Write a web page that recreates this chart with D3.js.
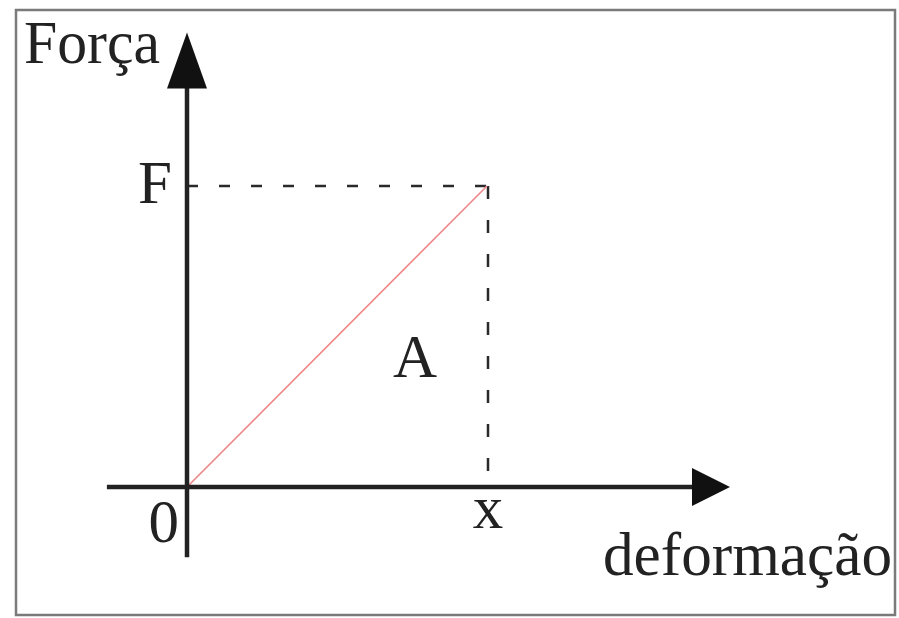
<!DOCTYPE html>
<html>
<head>
<meta charset="utf-8">
<script src="https://cdn.jsdelivr.net/npm/d3@7"></script>
<style>
  body { margin: 0; background: #fff; }
  svg text { font-family: "Liberation Serif", "DejaVu Serif", serif; fill: #222; }
</style>
</head>
<body>
<div id="chart"></div>
<script>
// line F = k x, drawn from origin to the point (x, F)
const deformacao = [0, 1];
const forca = [0, 1];
const axisX = [-0.267, 1.81];   // horizontal axis extent (incl. arrow tip)
const axisY = [-0.233, 1.51];   // vertical axis extent (incl. arrow tip)
const labels = { origin: "0", xPoint: "x", yPoint: "F", area: "A", xTitle: "deformação", yTitle: "Força" };

const width = 899, height = 618;

const svg = d3.select("#chart").append("svg")
    .attr("width", width)
    .attr("height", height);

// frame
svg.append("rect")
    .attr("x", 16).attr("y", 10)
    .attr("width", 879).attr("height", 605)
    .attr("fill", "none")
    .attr("stroke", "#7a7a7a")
    .attr("stroke-width", 2.5);

const x = d3.scaleLinear().domain([0, 1]).range([187, 487]);
const y = d3.scaleLinear().domain([0, 1]).range([487, 186]);

const xEnd = deformacao[deformacao.length - 1];
const yEnd = forca[forca.length - 1];

// dashed guides
svg.append("line")
    .attr("x1", x(0)).attr("y1", y(yEnd))
    .attr("x2", x(xEnd) + 1).attr("y2", y(yEnd))
    .attr("stroke", "#2a2a2a").attr("stroke-width", 2.5)
    .attr("stroke-dasharray", "11,21");

svg.append("line")
    .attr("x1", x(xEnd) + 1).attr("y1", y(yEnd))
    .attr("x2", x(xEnd) + 1).attr("y2", y(0))
    .attr("stroke", "#2a2a2a").attr("stroke-width", 2.5)
    .attr("stroke-dasharray", "13,21");

// red line
svg.append("path")
    .datum(deformacao.map((d, i) => [d, forca[i]]))
    .attr("d", d3.line().x(d => x(d[0])).y(d => y(d[1])))
    .attr("fill", "none")
    .attr("stroke", "#ee8586")
    .attr("stroke-width", 1.6);

// horizontal axis
const xArrowLen = 38, xArrowHalf = 19;
svg.append("line")
    .attr("x1", x(axisX[0])).attr("y1", y(0))
    .attr("x2", x(axisX[1]) - xArrowLen + 2).attr("y2", y(0))
    .attr("stroke", "#222").attr("stroke-width", 4.5);
svg.append("path")
    .attr("d", "M" + x(axisX[1]) + "," + y(0) +
        "L" + (x(axisX[1]) - xArrowLen) + "," + (y(0) - xArrowHalf) +
        "L" + (x(axisX[1]) - xArrowLen) + "," + (y(0) + xArrowHalf) + "Z")
    .attr("fill", "#111");

// vertical axis
const yArrowLen = 56, yArrowHalf = 20;
svg.append("line")
    .attr("x1", x(0)).attr("y1", y(axisY[0]))
    .attr("x2", x(0)).attr("y2", y(axisY[1]) + yArrowLen - 2)
    .attr("stroke", "#222").attr("stroke-width", 4.5);
svg.append("path")
    .attr("d", "M" + x(0) + "," + y(axisY[1]) +
        "L" + (x(0) - yArrowHalf) + "," + (y(axisY[1]) + yArrowLen) +
        "L" + (x(0) + yArrowHalf) + "," + (y(axisY[1]) + yArrowLen) + "Z")
    .attr("fill", "#111");

// labels
const fs = 61;
svg.append("text").attr("x", 24).attr("y", 63)
    .attr("font-size", fs).attr("textLength", 136).attr("lengthAdjust", "spacingAndGlyphs")
    .text(labels.yTitle);
svg.append("text").attr("x", 172).attr("y", 203)
    .attr("text-anchor", "end").attr("font-size", fs).text(labels.yPoint);
svg.append("text").attr("x", 179).attr("y", 542)
    .attr("text-anchor", "end").attr("font-size", fs).text(labels.origin);
svg.append("text").attr("x", x(xEnd) + 1).attr("y", 528)
    .attr("text-anchor", "middle").attr("font-size", fs).text(labels.xPoint);
svg.append("text").attr("x", 415).attr("y", 377)
    .attr("text-anchor", "middle").attr("font-size", fs).text(labels.area);
svg.append("text").attr("x", 603).attr("y", 575)
    .attr("font-size", fs).attr("textLength", 289).attr("lengthAdjust", "spacingAndGlyphs")
    .text(labels.xTitle);
</script>
</body>
</html>
